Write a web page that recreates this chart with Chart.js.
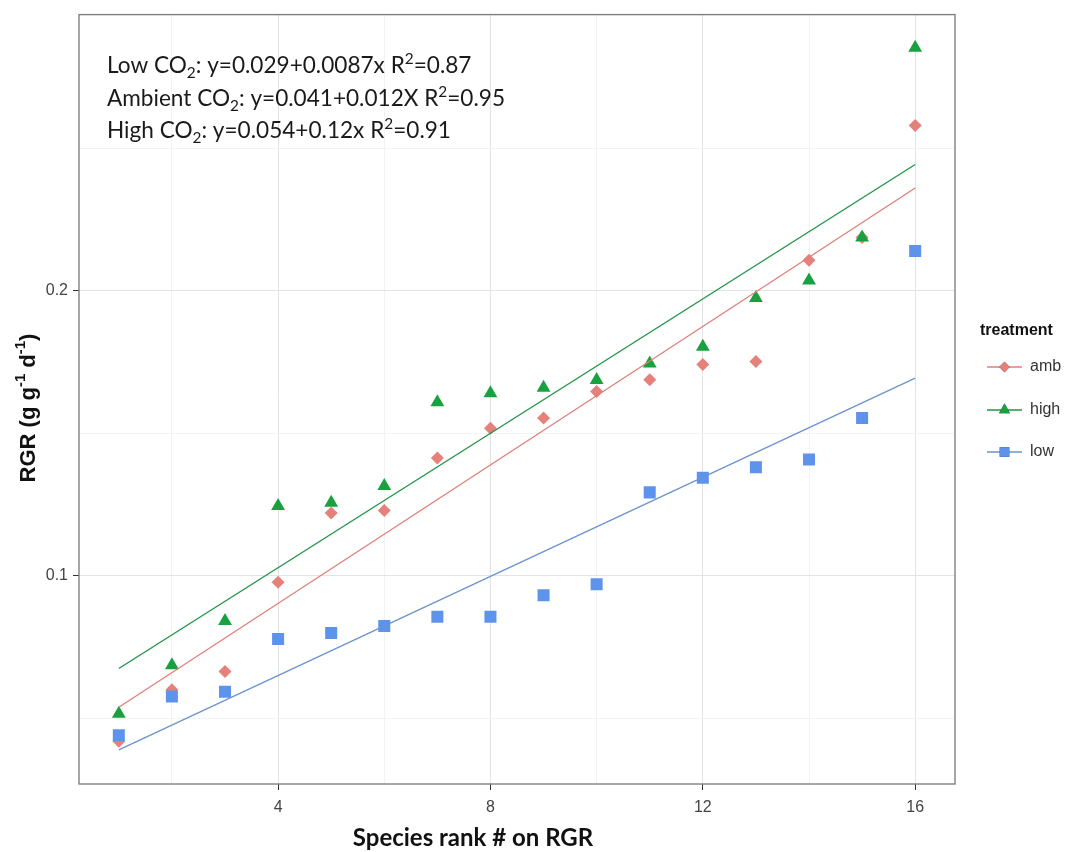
<!DOCTYPE html>
<html><head><meta charset="utf-8">
<script src="https://cdn.jsdelivr.net/npm/chart.js@4.4.0/dist/chart.umd.min.js"></script>
<style>html,body{margin:0;padding:0;background:#fff;}#wrap{width:1074px;height:852px;}</style>
</head><body><div id="wrap"><canvas id="c" width="1074" height="852"></canvas></div>
<script>
// ---- data ----
const speciesRank = [1,2,3,4,5,6,7,8,9,10,11,12,13,14,15,16];
const ambRGR  = [0.0419,0.0600,0.0664,0.0977,0.1220,0.1228,0.1413,0.1517,0.1553,0.1646,0.1687,0.1741,0.1751,0.2106,0.2186,0.2579];
const highRGR = [0.0515,0.0686,0.0841,0.1244,0.1256,0.1314,0.1608,0.1640,0.1659,0.1686,0.1744,0.1803,0.1974,0.2035,0.2186,0.2852];
const lowRGR  = [0.0440,0.0576,0.0593,0.0778,0.0799,0.0823,0.0856,0.0856,0.0931,0.0970,0.1292,0.1343,0.1380,0.1407,0.1553,0.2139];
const fitX    = [1, 16];
const ambFit  = [0.0538, 0.2360];
const highFit = [0.0674, 0.2442];
const lowFit  = [0.0389, 0.1693];
const xGridValues = [2,4,6,8,10,12,14,16];
const xTickLabels = [4,8,12,16];
const yGridValues = [0.05,0.1,0.15,0.2,0.25];
const yTickLabels = [0.1,0.2];
const treatments = ['amb','high','low'];
const equations = [
  [['Low CO'],['2','sub'],[': y=0.029+0.0087x R'],['2','sup'],['=0.87']],
  [['Ambient CO'],['2','sub'],[': y=0.041+0.012X R'],['2','sup'],['=0.95']],
  [['High CO'],['2','sub'],[': y=0.054+0.12x R'],['2','sup'],['=0.91']]
];

const colPts  = {amb:'#E5807B', high:'#18A23F', low:'#5E93EC'};
const colLine = {amb:'#E07F7A', high:'#1E9445', low:'#6A93D0'};
const shapes  = {amb:'rectRot', high:'triangle', low:'rect'};
const radii   = {amb:6.5, high:8, low:8.5};

const pts = arr => speciesRank.map((x,i)=>({x, y: arr[i]}));
const fit = arr => fitX.map((x,i)=>({x, y: arr[i]}));

function drawRich(ctx, segs, x, y, size, family, weight){
  let cx = x;
  for (const [t, kind] of segs){
    const s = kind ? size*0.68 : size;
    ctx.font = `${weight} ${s}px ${family}`;
    let dy = 0;
    if (kind==='sub') dy = size*0.2;
    if (kind==='sup') dy = -size*0.38;
    ctx.fillText(t, cx, y+dy);
    cx += ctx.measureText(t).width;
  }
  return cx - x;
}
function richWidth(ctx, segs, size, family, weight){
  let w=0;
  for (const [t,kind] of segs){ ctx.font = `${weight} ${kind?size*0.68:size}px ${family}`; w+=ctx.measureText(t).width; }
  return w;
}

const decor = {
  id:'decor',
  afterDraw(chart){
    const {ctx, chartArea:a} = chart;
    ctx.save();
    // panel border
    ctx.strokeStyle = '#808080'; ctx.lineWidth = 1.4;
    ctx.strokeRect(a.left, a.top, a.right-a.left, a.bottom-a.top);
    // equations
    ctx.fillStyle = '#1a1a1a'; ctx.textBaseline = 'alphabetic'; ctx.textAlign='left';
    const base = [73, 106, 138];
    equations.forEach((segs,i)=> drawRich(ctx, segs, 107, base[i], 22.6, 'Lato, "Open Sans", sans-serif', 'normal'));
    // x title
    ctx.font = 'bold 24px Lato, "Open Sans", sans-serif';
    ctx.textAlign = 'center'; ctx.textBaseline='middle'; ctx.fillStyle='#111';
    ctx.fillText('Species rank # on RGR', 473, 838);
    // y title (rotated)
    const ySegs = [['RGR (g g'],['-1','sup'],[' d'],['-1','sup'],[')']];
    ctx.save();
    ctx.translate(29, 408); ctx.rotate(-Math.PI/2);
    ctx.textAlign='left'; ctx.textBaseline='middle';
    const fam = '"Liberation Sans", Arial, sans-serif';
    const w = richWidth(ctx, ySegs, 22, fam, 'bold');
    drawRich(ctx, ySegs, -w/2, 0, 22, fam, 'bold');
    ctx.restore();
    // legend
    ctx.textAlign='left'; ctx.textBaseline='middle';
    ctx.font = 'bold 16px "Liberation Sans", Arial, sans-serif'; ctx.fillStyle='#111';
    ctx.fillText('treatment', 980, 331);
    const ly = [367, 410, 452];
    treatments.forEach((t,i)=>{
      ctx.strokeStyle = colLine[t]; ctx.lineWidth = 1.3;
      ctx.beginPath(); ctx.moveTo(987, ly[i]); ctx.lineTo(1022, ly[i]); ctx.stroke();
      Chart.helpers.drawPoint(ctx, {pointStyle: shapes[t], radius: radii[t]*0.8, borderWidth:0}, 1004.5, ly[i]);
      ctx.fillStyle = colPts[t]; ctx.fill();
      ctx.fillStyle = '#333'; ctx.font = '16px "Liberation Sans", Arial, sans-serif';
      ctx.fillText(t, 1030, ly[i]);
    });
    ctx.restore();
  }
};

function pointDs(t, arr, order){
  return {label:t, data: pts(arr), showLine:false, order,
    pointStyle: shapes[t], pointRadius: radii[t], pointHoverRadius: radii[t],
    pointBackgroundColor: colPts[t], pointBorderColor: colPts[t], pointBorderWidth: 0};
}
function lineDs(t, arr){
  return {label:t+' fit', data: fit(arr), showLine:true, order:0, pointRadius:0,
    borderColor: colLine[t], borderWidth: 1.3, fill:false};
}

new Chart(document.getElementById('c'), {
  type:'scatter',
  data:{datasets:[
    pointDs('amb', ambRGR, 3), pointDs('high', highRGR, 2), pointDs('low', lowRGR, 1),
    lineDs('amb', ambFit), lineDs('high', highFit), lineDs('low', lowFit)
  ]},
  options:{
    responsive:false, animation:false, devicePixelRatio:1,
    layout:{padding:{left:0, right:119, top:10, bottom:0}},
    plugins:{legend:{display:false}, tooltip:{enabled:false}},
    scales:{
      x:{type:'linear', min:0.25, max:16.75,
        afterBuildTicks: s => { s.ticks = xGridValues.map(v=>({value:v})); },
        afterFit: s => { s.height = 68; },
        border:{display:false},
        grid:{
          color: c => xTickLabels.includes(c.tick && c.tick.value) ? '#E3E3E3' : '#F3F3F3',
          tickColor: c => xTickLabels.includes(c.tick && c.tick.value) ? '#333333' : 'rgba(0,0,0,0)',
          tickLength:6, lineWidth:1
        },
        ticks:{autoSkip:false, maxRotation:0, padding:8, color:'#444',
          font:{family:'"Liberation Sans", Arial, sans-serif', size:16},
          callback: v => xTickLabels.includes(v) ? String(v) : ''}
      },
      y:{type:'linear', min:0.0269, max:0.2968,
        afterBuildTicks: s => { s.ticks = yGridValues.map(v=>({value:v})); },
        afterFit: s => { s.width = 79; },
        border:{display:false},
        grid:{
          color: c => (c.tick && yTickLabels.some(v=>Math.abs(v-c.tick.value)<1e-9)) ? '#E3E3E3' : '#F3F3F3',
          tickColor: c => (c.tick && yTickLabels.some(v=>Math.abs(v-c.tick.value)<1e-9)) ? '#333333' : 'rgba(0,0,0,0)',
          tickLength:6, lineWidth:1
        },
        ticks:{autoSkip:false, padding:5, color:'#444',
          font:{family:'"Liberation Sans", Arial, sans-serif', size:16},
          callback: v => yTickLabels.some(t=>Math.abs(t-v)<1e-9) ? v.toFixed(1) : ''}
      }
    }
  },
  plugins:[decor]
});
</script></body></html>
